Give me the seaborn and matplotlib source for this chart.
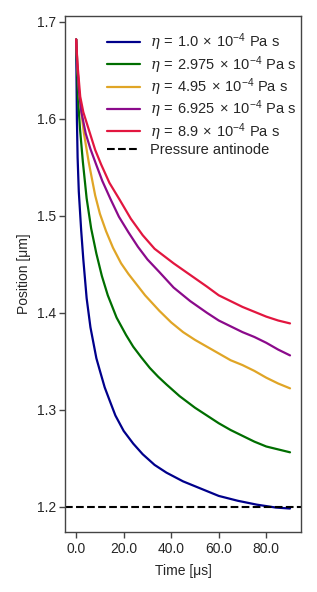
import numpy as np
import pandas as pd
import seaborn as sns
import matplotlib.pyplot as plt
from matplotlib.ticker import FormatStrFormatter

# curves, time in us, position in um
t_blue = [0, 0.15, 0.3, 0.6, 1.1, 2.1, 3, 4.4, 6, 8.5, 10, 12, 14, 16.5, 20, 24, 28, 33, 38,
          45, 52, 60, 68, 76, 84, 90]
y_blue = [1.682, 1.64, 1.60, 1.56, 1.525, 1.485, 1.455, 1.415, 1.385, 1.353, 1.340, 1.323,
          1.310, 1.294, 1.278, 1.265, 1.254, 1.243, 1.235, 1.226, 1.219, 1.211, 1.206, 1.202,
          1.199, 1.198]

t_green = [0, 0.7, 1.6, 2.8, 4.4, 6.3, 8.5, 10.8, 13.3, 17, 21, 24, 27.4, 31, 34.5, 38, 43.5,
           50, 55, 60, 65, 70, 75, 80, 85, 90]
y_green = [1.682, 1.623, 1.59, 1.556, 1.518, 1.487, 1.461, 1.438, 1.418, 1.395, 1.377, 1.365,
           1.354, 1.343, 1.334, 1.326, 1.314, 1.302, 1.294, 1.286, 1.279, 1.273, 1.267, 1.262,
           1.259, 1.256]

t_yellow = [0, 0.6, 1.4, 3.2, 5.3, 8, 10, 12.6, 15.5, 18.9, 22, 25.5, 29, 32, 35, 40, 45, 50,
            55, 60, 65, 70, 75, 80, 85, 90]
y_yellow = [1.682, 1.65, 1.623, 1.586, 1.555, 1.521, 1.502, 1.484, 1.467, 1.451, 1.440, 1.429,
            1.418, 1.410, 1.402, 1.390, 1.380, 1.372, 1.365, 1.358, 1.351, 1.346, 1.340, 1.333,
            1.327, 1.322]

t_purple = [0, 0.5, 1.2, 2.2, 4, 6, 8.4, 11, 14.5, 18, 22, 26, 30, 35, 41, 48, 55, 60, 65, 70,
            75, 80, 85, 90]
y_purple = [1.682, 1.655, 1.628, 1.607, 1.585, 1.569, 1.553, 1.536, 1.517, 1.499, 1.483, 1.468,
            1.455, 1.442, 1.426, 1.412, 1.400, 1.392, 1.386, 1.380, 1.375, 1.369, 1.362, 1.356]

t_red = [0, 0.5, 1.7, 3, 5.3, 8, 10.5, 14, 18.2, 23, 28, 33, 41, 48, 55, 60, 65, 70, 75, 80,
         85, 90]
y_red = [1.682, 1.658, 1.623, 1.607, 1.589, 1.568, 1.553, 1.534, 1.517, 1.497, 1.480, 1.466,
         1.451, 1.439, 1.427, 1.418, 1.412, 1.406, 1.401, 1.396, 1.392, 1.389]

labels = [r"$\eta\,=\,1.0\,\times\,10^{-4}$ Pa s",
          r"$\eta\,=\,2.975\,\times\,10^{-4}$ Pa s",
          r"$\eta\,=\,4.95\,\times\,10^{-4}$ Pa s",
          r"$\eta\,=\,6.925\,\times\,10^{-4}$ Pa s",
          r"$\eta\,=\,8.9\,\times\,10^{-4}$ Pa s"]
colors = ["#00008b", "#006e00", "#e0a526", "#8b0a8b", "#e2163f"]
antinode = 1.2

series = [(t_blue, y_blue), (t_green, y_green), (t_yellow, y_yellow),
          (t_purple, y_purple), (t_red, y_red)]
frames = []
for lab, (t, y) in zip(labels, series):
    frames.append(pd.DataFrame({"t": t, "y": y, "eta": lab}))
df = pd.concat(frames, ignore_index=True)

sns.set_theme(style="ticks")
plt.rcParams["font.family"] = ["Liberation Sans", "DejaVu Sans"]
plt.rcParams["mathtext.fontset"] = "custom"
plt.rcParams["mathtext.rm"] = "Liberation Sans"
plt.rcParams["mathtext.it"] = "DejaVu Serif:italic"

fig = plt.figure(figsize=(3.17, 5.92), dpi=100)
ax = fig.add_axes([0.2066, 0.1014, 0.742, 0.8716])

sns.lineplot(data=df, x="t", y="y", hue="eta", palette=colors, hue_order=labels,
             linewidth=1.6, ax=ax)
ax.axhline(antinode, color="black", ls="--", lw=1.5, label="Pressure antinode")

ax.set_xticks([0, 20, 40, 60, 80])
ax.set_yticks([1.2, 1.3, 1.4, 1.5, 1.6, 1.7])
ax.xaxis.set_major_formatter(FormatStrFormatter("%.1f"))
ax.yaxis.set_major_formatter(FormatStrFormatter("%.1f"))
ax.tick_params(labelsize=10, length=4, width=1, color="#444444", pad=3)
for s in ax.spines.values():
    s.set_visible(True)
    s.set_color("#444444")
    s.set_linewidth(1.0)
ax.set_xlabel("Time [μs]", fontsize=10, labelpad=6)
ax.set_ylabel("Position [μm]", fontsize=10, labelpad=4)

ax.legend(loc="upper right", bbox_to_anchor=(1.007, 0.981), frameon=False, fontsize=10.5,
          handlelength=2.3, borderaxespad=0, labelspacing=0.05, handletextpad=0.7)

fig.savefig("out.png", dpi=100)
